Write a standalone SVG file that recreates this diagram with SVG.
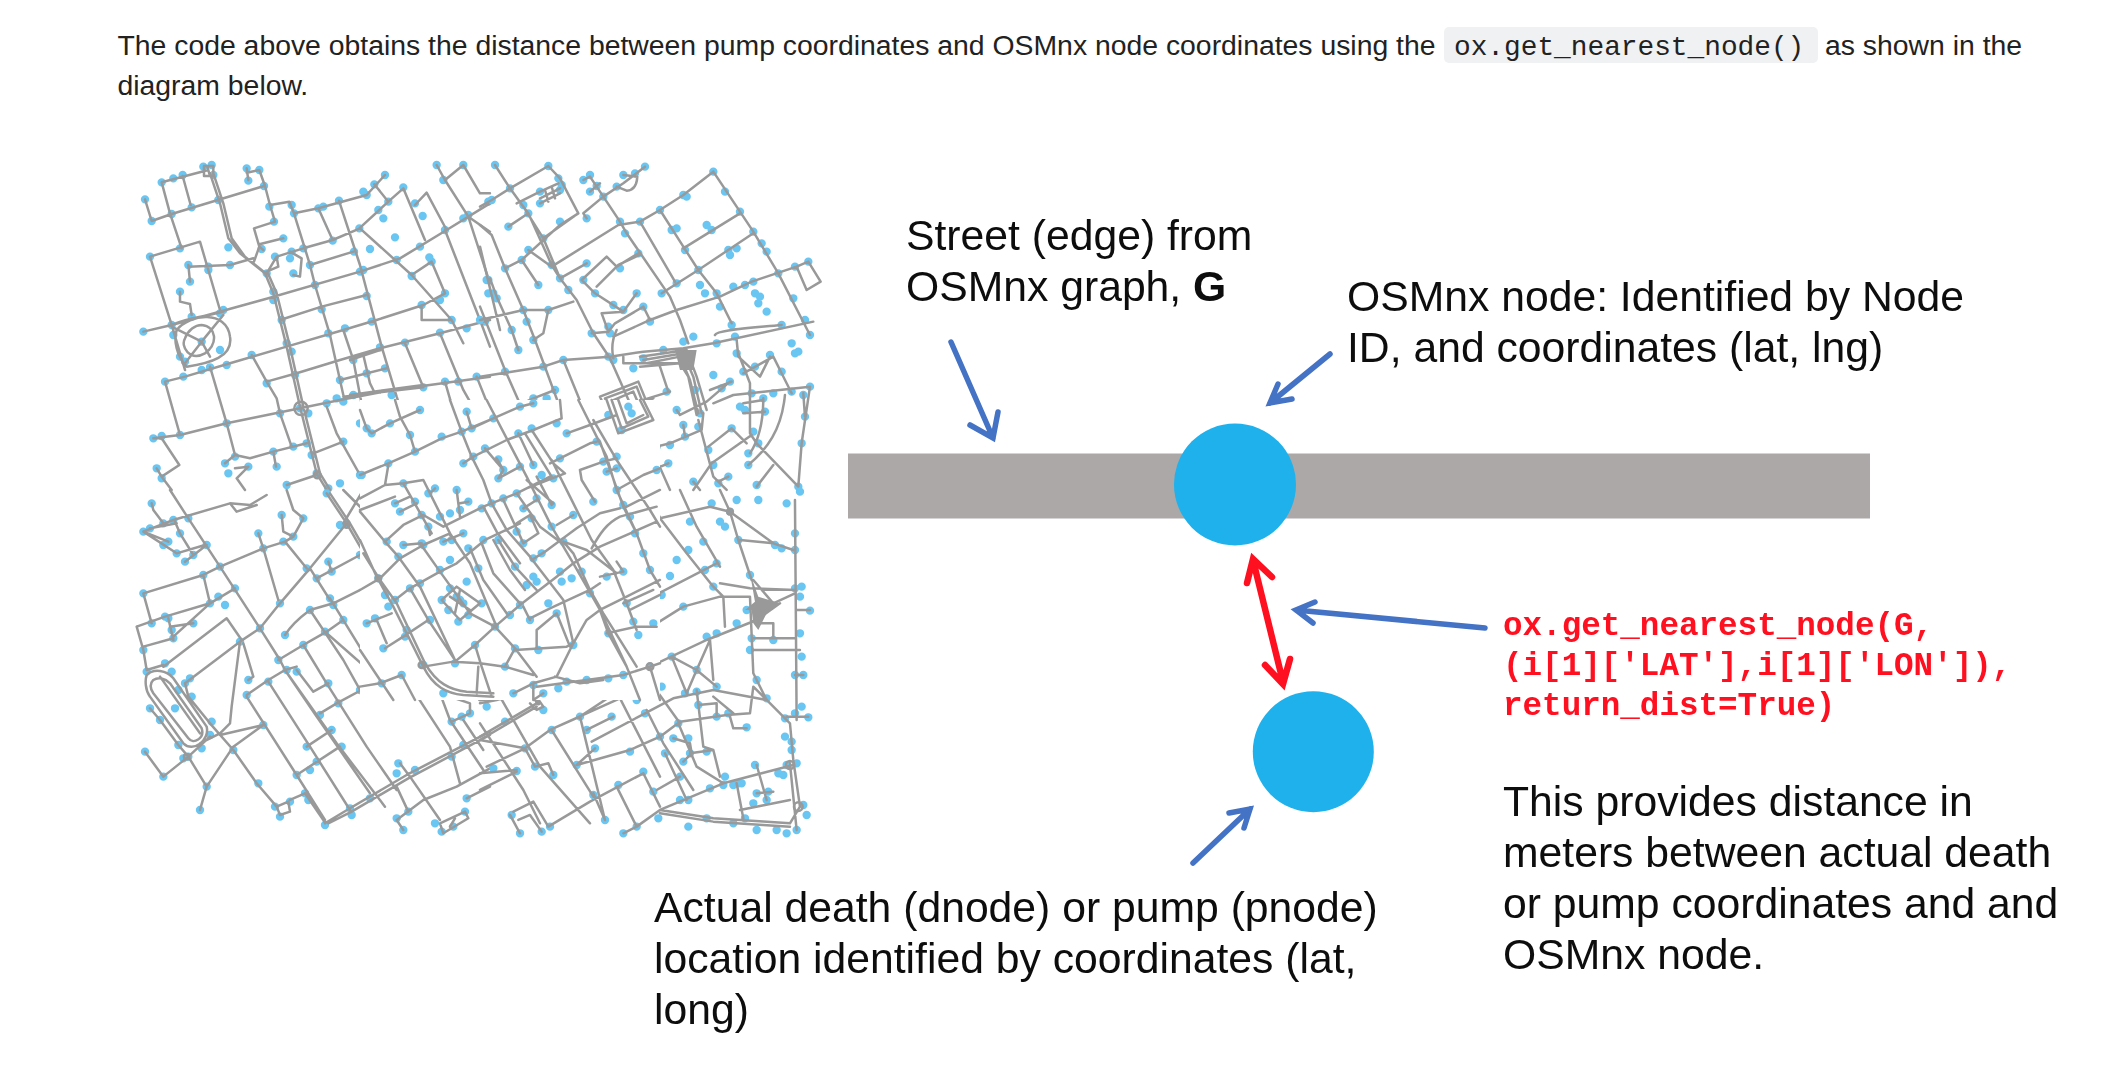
<svg xmlns="http://www.w3.org/2000/svg" width="2118" height="1080" viewBox="0 0 2118 1080">
<style>
.roads{fill:none;stroke:#999;stroke-width:7.5;stroke-linejoin:round;stroke-linecap:round}
.dots{fill:none;stroke:#69c5f1;stroke-width:25;stroke-linecap:round}
.body{font-family:"Liberation Sans",Arial,sans-serif;font-size:28.37px;fill:#222}
.label{font-family:"Liberation Sans",Arial,sans-serif;font-size:42.7px;fill:#0d0d0d}
.code{font-family:"Liberation Mono","Courier New",monospace;font-size:32.6px;font-weight:bold;fill:#ff1020}
.inline{font-family:"Liberation Mono","Courier New",monospace;font-size:27.8px;fill:#222}
.blue{fill:none;stroke:#4472c4;stroke-width:5.5;stroke-linejoin:miter;stroke-linecap:round}
.red{fill:none;stroke:#ff1020;stroke-width:6.5;stroke-linejoin:miter;stroke-linecap:round}
.node{fill:#1eb1ec}
</style>
<defs>
<filter id="soft" x="-2%" y="-2%" width="104%" height="104%"><feGaussianBlur stdDeviation="0.55"/></filter>
<clipPath id="outer"><path clip-rule="evenodd" d="M100 130H860V860H100ZM360 400V700H660V400Z"/></clipPath>
</defs>
<rect width="2118" height="1080" fill="#fff"/>
<g id="intro">
<text class="body" x="117.5" y="55">The code above obtains the distance between pump coordinates and OSMnx node coordinates using the</text>
<rect x="1444" y="27" width="374" height="36" rx="5" fill="#f0f1f2"/>
<text class="inline" x="1454" y="55">ox.get_nearest_node()</text>
<text class="body" x="1825" y="55">as shown in the</text>
<text class="body" x="117.5" y="95">diagram below.</text>
</g>
<g id="street-map" filter="url(#soft)">
<g clip-path="url(#outer)">
<g transform="translate(130 150) scale(.3333)">
<path class="dots" d="M45 148h.1M65 213h.1M125 192h.1M95 97h.1M130 85h.1M158 75h.1M220 50h.1M245 45h.1M250 75h.1M185 172h.1M265 150h.1M350 55h.1M388 60h.1M355 92h.1M402 108h.1M418 170h.1M485 165h.1M492 190h.1M432 215h.1M565 175h.1M580 170h.1M627 152h.1M710 135h.1M700 125h.1M733 103h.1M765 75h.1M820 112h.1M775 155h.1M745 180h.1M760 205h.1M795 262h.1M855 160h.1M878 198h.1M688 235h.1M608 272h.1M460 265h.1M395 297h.1M295 292h.1M485 305h.1M435 320h.1M520 295h.1M480 325h.1M490 370h.1M540 345h.1M555 405h.1M672 305h.1M690 365h.1M700 360h.1M720 297h.1M870 290h.1M800 330h.1M845 378h.1M898 322h.1M905 335h.1M945 240h.1M920 45h.1M1000 45h.1M940 90h.1M1000 205h.1M1015 195h.1M1075 155h.1M1070 390h.1M1075 430h.1M945 430h.1M930 450h.1M965 510h.1M875 465h.1M1065 515h.1M1010 535h.1M930 548h.1M825 578h.1M750 592h.1M725 515h.1M645 535h.1M595 550h.1M710 438h.1M575 478h.1M455 510h.1M430 425h.1M430 450h.1M410 370h.1M150 295h.1M60 320h.1M175 345h.1M235 350h.1M235 360h.1M300 345h.1M180 395h.1M150 425h.1M270 490h.1M280 480h.1M185 500h.1M125 525h.1M40 545h.1M130 555h.1M150 620h.1M270 600h.1M215 575h.1M165 635h.1M215 660h.1M240 652h.1M290 645h.1M160 680h.1M105 695h.1M365 615h.1M470 580h.1M485 605h.1M495 675h.1M410 700h.1M630 690h.1M670 630h.1M710 670h.1M765 655h.1M620 745h.1M640 755h.1M670 735h.1M510 775h.1M450 790h.1M535 790h.1M590 760h.1M880 712h.1M945 695h.1M985 695h.1M1040 680h.1M785 735h.1M870 780h.1M780 815h.1M790 820h.1M725 850h.1M690 820h.1M840 855h.1M935 860h.1M855 905h.1M990 845h.1M1025 835h.1M1015 785h.1M1025 920h.1M995 940h.1M1075 905h.1M775 935h.1M690 975h.1M640 875h.1M545 915h.1M560 970h.1M430 905h.1M440 950h.1M490 890h.1M530 880h.1M315 920h.1M285 940h.1M355 950h.1M295 970h.1M80 955h.1M95 985h.1M150 855h.1M70 865h.1M95 858h.1M290 820h.1M470 1005h.1M595 1015h.1M630 1000h.1M770 1000h.1M820 1000h.1M905 1010h.1M980 1015h.1"/>
<path class="roads" d="M45 148L65 213L125 192L402 108M95 97L120 190L155 295M95 97L235 60M158 78L182 165M222 48H250V78H222ZM232 50L240 78M240 70L270 160L295 265L330 310L405 370M250 70L280 160L305 265L345 320L405 368M350 55L355 90M350 68L388 60L405 108L420 165L478 155L492 190M420 165L435 215L372 235L388 290L372 335M388 283L460 265M400 300L388 290M492 190L540 345L555 405L600 555L630 690L640 735M492 190L565 175L710 135L765 75M733 103L775 155M775 155L688 235M775 155L820 115L885 270M855 165L890 128L950 240L1080 160M627 152L690 345L755 590L800 740L855 905M565 175L608 270M405 370L430 430L470 590L510 770L560 970L590 1020M414 370L440 430L480 590L520 770L570 970L600 1020M60 320L210 275L270 480M60 320L125 525L165 660M40 545L125 525L415 445L690 365L810 325L950 240M175 350L300 345L370 325M175 345L180 395M150 425L150 455L180 462L185 495M140 540C180 490 290 480 300 560C310 620 240 640 170 650C140 620 130 570 140 540ZM215 525C260 530 265 580 225 610C180 635 150 590 165 565C175 540 195 525 215 525ZM125 530L215 575L280 495M215 575L165 640M215 575L240 620M125 525C180 500 230 500 280 485M105 695L165 680L300 640L470 590L640 540L740 510L880 465L945 430M105 695L150 855M70 865L150 855L290 820L510 775L630 750L790 720L1080 680M240 650L290 820L315 915M365 615L410 695L440 745L450 790L485 890M410 695L500 670L630 630L750 595L930 550L1080 510M540 345L670 305M450 510L575 470L710 435M410 370L440 320L520 295L608 270L690 235M440 320L445 350L410 365M480 305L515 325L510 380L490 375M690 235L845 375L965 510L1000 580M845 375L905 335L945 430M920 45L945 90L1000 45L1050 130H1080M945 90L1015 200L1080 245M1015 200L1080 400M945 240L1050 510L1080 590M875 470V510H965M640 540L670 630L690 735L710 845L780 810L870 780M660 630L750 600M700 615L720 700L730 720M630 690L770 655M640 740L880 712M660 735L880 705M825 580L880 712M930 550L1000 720L1080 860M945 695L990 850L1030 930L1080 1020M1040 680L1080 780M590 770L620 850L690 975M550 910L640 875M690 975L775 935L860 905L1000 845L1080 810M775 935L765 1010M1015 785L1030 830M70 865H95L148 945L95 980L80 955M95 980L125 1020M285 940L315 915L360 925L430 905L530 880M315 955L355 950L320 985L345 1020M430 905L438 950M470 1005L560 975M810 1000L880 990L895 1020"/>
<circle class="roads" cx="513" cy="775" r="20" fill="#999"/>
<circle class="roads" cx="562" cy="975" r="10" fill="#999"/>
</g>
<g transform="translate(480 150) scale(.3333)">
<path class="dots" d="M45 45h.1M205 48h.1M90 115h.1M35 150h.1M130 165h.1M145 190h.1M85 230h.1M235 85h.1M245 105h.1M180 125h.1M180 160h.1M240 120h.1M240 215h.1M310 90h.1M330 75h.1M350 108h.1M330 125h.1M370 140h.1M320 205h.1M410 110h.1M430 75h.1M465 70h.1M495 50h.1M420 215h.1M435 250h.1M480 215h.1M540 180h.1M610 135h.1M620 140h.1M700 65h.1M735 125h.1M780 185h.1M820 245h.1M845 280h.1M860 305h.1M575 240h.1M590 235h.1M680 225h.1M695 240h.1M615 300h.1M745 300h.1M750 315h.1M770 295h.1M655 360h.1M190 265h.1M215 345h.1M145 300h.1M125 330h.1M75 355h.1M175 405h.1M240 385h.1M265 420h.1M320 340h.1M310 390h.1M345 430h.1M475 310h.1M420 355h.1M470 430h.1M430 480h.1M400 465h.1M490 470h.1M510 515h.1M385 530h.1M390 550h.1M335 550h.1M545 430h.1M590 400h.1M660 405h.1M675 430h.1M710 430h.1M720 470h.1M760 410h.1M795 405h.1M820 395h.1M825 430h.1M840 440h.1M835 460h.1M755 525h.1M895 370h.1M945 350h.1M985 335h.1M860 485h.1M940 445h.1M975 510h.1M905 525h.1M990 555h.1M935 580h.1M945 610h.1M955 605h.1M870 615h.1M765 560h.1M710 580h.1M610 575h.1M640 560h.1M25 390h.1M40 430h.1M50 445h.1M95 540h.1M115 600h.1M130 480h.1M140 515h.1M205 480h.1M160 570h.1M0 510h.1M190 650h.1M250 630h.1M75 665h.1M385 620h.1M400 630h.1M460 655h.1M490 625h.1M550 600h.1M560 725h.1M590 780h.1M750 695h.1M725 715h.1M700 675h.1M645 720h.1M655 830h.1M660 790h.1M615 860h.1M610 825h.1M570 885h.1M530 890h.1M160 745h.1M150 760h.1M200 745h.1M225 720h.1M45 800h.1M120 780h.1M155 830h.1M230 825h.1M265 850h.1M390 795h.1M440 765h.1M450 795h.1M350 875h.1M115 850h.1M20 895h.1M55 930h.1M50 985h.1M75 975h.1M125 945h.1M160 945h.1M240 925h.1M180 975h.1M220 965h.1M370 930h.1M405 925h.1M380 965h.1M405 955h.1M490 975h.1M525 960h.1M565 940h.1M685 900h.1M700 945h.1M640 995h.1M715 1000h.1M745 980h.1M780 770h.1M795 780h.1M855 785h.1M850 745h.1M815 730h.1M880 730h.1M935 725h.1M990 710h.1M970 735h.1M975 800h.1M965 880h.1M955 1010h.1M755 835h.1M820 845h.1M805 910h.1M805 945h.1M835 880h.1M830 1005h.1M905 665h.1M825 650h.1M790 665h.1M770 610h.1"/>
<path class="roads" d="M45 45L90 115L130 170L190 265L240 385L290 450L340 550L390 625L450 760L530 930L570 1020M205 48L90 115L35 150L0 170M205 48L240 85L295 190L190 265M85 230L145 190M130 170L145 190L215 345M180 125L235 100M180 145L240 115M180 160L240 130M195 120L205 155M215 110L225 145M110 160L180 125M0 225L35 255L75 355L130 480L165 570L250 800L300 960M75 355L125 330L185 275L240 225L295 190M125 330L175 405M145 300L215 350L415 225L480 215L540 180L610 135L700 65M310 90L330 80L370 140L420 215L440 250L570 440L600 510L625 580M320 205L310 190L370 140L430 100L495 50M410 110L440 122Q470 120 472 80L430 75M330 125L360 100M700 65L780 185L820 245L895 370L990 555M480 215L585 395M540 180L610 290L655 360L710 430L755 520M610 295L780 190M545 430L655 360L820 250M215 345L240 385L320 340M305 390L345 430L430 485L470 430M305 390L380 320L410 350L475 310M350 410L410 350L415 345L478 315M0 510L130 480L205 480L280 455M205 480L190 550L160 570M30 385L50 440L95 540L115 600M0 680L190 650L250 630L390 620L490 605L610 595L700 580L1000 515M250 630L340 850L350 870L420 1000M365 490L430 485M365 490L385 545L335 550M385 545L405 520L490 470L510 510L590 480L720 440L815 395L950 350L985 335L1022 395L980 420L950 350M410 540C395 570 395 600 400 625M400 560L510 510M430 620V640H600M480 620L620 600L650 680L680 780M490 630L610 610L640 680L665 790M500 640L600 620L630 690L655 790M480 650L600 640L625 680L650 795M540 650L565 725M590 780L600 795L680 755L750 695M690 720L755 695M700 760L760 735L990 710M360 740L475 695L520 805L410 855ZM375 745L470 710L505 800L420 840ZM390 755L460 725L490 795L430 825ZM440 765L570 725M260 850L390 795L520 745M0 820L45 800L160 745L225 720M0 900L115 850L230 820L240 800M115 850L160 945M20 895L50 960L75 975M45 985L145 960L240 925L350 875M260 940L240 925L260 965L215 985M300 960L400 925M300 960L310 1020M370 920L380 970L485 975L565 940M530 890L570 880L665 840L670 790M610 825L615 860M655 810L700 980L740 1020M685 890L755 835L800 880M695 940L815 855M770 570L775 620L840 680L870 620M790 670L880 620L905 670L935 730M775 610L810 700L810 850L830 880L955 1010M790 760L850 750M790 790L855 785M915 735C905 840 860 900 805 945M850 745C850 830 830 880 810 910M990 710L965 880L955 1010M970 730L975 800M830 1010L880 945M640 995L660 1020M715 995L745 980M695 940L640 1020M705 555C710 540 800 535 905 525M0 290L60 540M0 470L75 660L150 830L215 980L240 1020M120 800L225 990"/>
<path d="M585 600L650 600L640 660L600 660Z" fill="#999"/>
</g>
<g transform="translate(130 490) scale(.3333)">
<path class="dots" d="M65 40h.1M100 100h.1M40 125h.1M60 115h.1M130 90h.1M175 85h.1M150 130h.1M115 155h.1M100 165h.1M140 190h.1M165 215h.1M190 195h.1M230 165h.1M270 230h.1M220 255h.1M40 310h.1M65 400h.1M105 380h.1M115 385h.1M190 400h.1M130 445h.1M125 420h.1M240 340h.1M265 320h.1M285 345h.1M315 295h.1M40 480h.1M105 520h.1M125 545h.1M50 545h.1M60 655h.1M90 690h.1M135 655h.1M145 600h.1M165 580h.1M180 565h.1M185 620h.1M245 695h.1M240 735h.1M215 775h.1M145 765h.1M175 800h.1M160 805h.1M45 785h.1M100 860h.1M230 890h.1M210 960h.1M310 780h.1M400 705h.1M385 880h.1M435 950h.1M450 980h.1M480 935h.1M525 910h.1M535 930h.1M585 1005h.1M660 955h.1M665 975h.1M720 925h.1M800 850h.1M855 840h.1M805 820h.1M965 800h.1M1000 765h.1M350 615h.1M355 570h.1M330 455h.1M390 415h.1M415 575h.1M445 510h.1M470 540h.1M500 545h.1M595 580h.1M520 465h.1M585 425h.1M640 390h.1M465 435h.1M540 360h.1M600 325h.1M610 345h.1M450 340h.1M530 235h.1M560 265h.1M595 215h.1M605 245h.1M690 195h.1M400 175h.1M385 130h.1M460 155h.1M490 140h.1M455 75h.1M520 85h.1M590 10h.1M650 100h.1M630 105h.1M745 265h.1M775 320h.1M770 350h.1M790 340h.1M710 405h.1M735 385h.1M760 475h.1M780 465h.1M830 430h.1M885 400h.1M880 530h.1M820 555h.1M755 580h.1M690 600h.1M625 640h.1M570 675h.1M605 720h.1M530 770h.1M635 770h.1M560 815h.1M540 840h.1M500 855h.1M945 600h.1M965 695h.1M995 680h.1M1020 670h.1M1010 925h.1M800 985h.1M820 1020h.1M835 965h.1M935 1025h.1M915 1000h.1M970 1010h.1M1005 965h.1"/>
<path class="roads" d="M120 0L175 85L270 230L390 415L450 510L465 540L620 760L765 950M65 40L70 60L100 100M40 125L130 90L300 40L360 45L410 15M300 40L320 65L380 45M40 125L140 190L225 165M60 115L140 100M135 95L150 130L190 195M165 215L230 165M40 125L115 155M270 230L220 255L40 310L65 400M220 255L240 340M20 410L105 380L240 340L315 295M240 340L130 440M115 385L130 450M120 410L190 400M20 410L40 480L50 540M40 470L130 445M100 530L290 385L335 450M50 540L100 525M165 580L330 455L390 415L450 340L540 235L650 100L590 10M330 455L305 650L300 700L270 730L210 760M340 460L370 560L355 570M50 555C70 535 110 540 130 565L230 710C240 750 190 790 160 760L60 620C45 600 45 570 50 555ZM70 570C85 560 105 565 120 580L215 715C225 745 190 765 175 745L70 610C60 595 60 580 70 570ZM90 690L145 765L175 800M60 655L90 690M90 560L210 730M165 580L175 620L240 700L310 780L380 880L440 950M175 800L230 890L210 960M230 890L310 770L400 705L270 735M45 785L100 860L175 800L240 740M440 950L475 935L480 965L450 975ZM480 930L525 910M525 910L580 990L585 1000M585 1000L660 955L830 855L1080 725M595 1000L665 965L835 865L1080 735M350 615L415 570L465 540L500 530M350 620L500 855L585 990M415 575L540 770L660 960M465 540L560 680L720 910M500 540L550 605L595 580M520 465L590 580L710 770L800 900M445 510L520 465L590 425L640 390M585 425L750 570M465 435C490 395 520 375 540 360L610 340L730 280M540 360L640 510L690 600M600 325L750 570M540 235L600 330M400 175L445 330M400 175L465 155L530 235M270 230L400 175M385 130L400 175M455 75L460 125L490 140L465 155M470 0L490 60L520 85L490 140M560 265L690 195L810 140M595 215L605 245M590 10L650 100L745 265L830 430L880 530C900 570 940 610 1000 620L1080 630M600 10L660 100L755 265L840 430L885 520M570 670L620 640L750 570L880 535M530 770L605 720M500 855L630 770M710 405L745 385L780 470M760 475L890 400M820 555L960 770L990 880M930 610L1020 640L1020 670L965 695M930 610L960 690L1060 840M1000 690L1060 780M1010 925L1080 890M800 990L880 930L980 890L1080 835M800 990L820 1020M810 820L840 860L930 990M800 890L835 965M930 1000L1005 965L1015 985L940 1030ZM975 985L960 1010M640 0L700 60M700 0L640 100"/>
<circle class="roads" cx="745" cy="265" r="8" fill="#999"/>
<circle class="roads" cx="650" cy="105" r="8" fill="#999"/>
<circle class="roads" cx="170" cy="800" r="8" fill="#999"/>
</g>
<g transform="translate(480 490) scale(.3333)">
<path class="dots" d="M835 30h.1M920 40h.1M960 5h.1M770 30h.1M695 40h.1M750 65h.1M720 95h.1M735 110h.1M945 130h.1M775 150h.1M885 165h.1M905 175h.1M945 180h.1M710 220h.1M675 240h.1M700 290h.1M570 258h.1M545 315h.1M590 210h.1M625 180h.1M670 155h.1M630 95h.1M610 350h.1M680 440h.1M710 430h.1M770 400h.1M520 405h.1M545 590h.1M575 500h.1M650 540h.1M615 610h.1M710 590h.1M650 605h.1M655 645h.1M710 680h.1M745 670h.1M800 712h.1M830 570h.1M860 625h.1M810 480h.1M815 445h.1M810 255h.1M800 360h.1M880 450h.1M945 295h.1M965 290h.1M960 320h.1M990 362h.1M945 555h.1M970 555h.1M960 430h.1M965 500h.1M965 650h.1M915 685h.1M945 670h.1M985 682h.1M915 740h.1M935 755h.1M935 780h.1M920 825h.1M950 820h.1M910 855h.1M895 850h.1M775 880h.1M785 880h.1M735 860h.1M730 885h.1M760 885h.1M825 825h.1M830 910h.1M865 905h.1M860 930h.1M820 940h.1M970 945h.1M980 975h.1M950 1020h.1M920 1030h.1M890 1020h.1M830 1020h.1M795 985h.1M760 1000h.1M680 985h.1M625 1010h.1M535 985h.1M520 905h.1M625 930h.1M600 930h.1M690 895h.1M600 860h.1M555 790h.1M580 745h.1M625 745h.1M630 790h.1M610 815h.1M680 785h.1M595 700h.1M540 740h.1M450 785h.1M490 845h.1M415 885h.1M470 1010h.1M430 1030h.1M375 990h.1M340 915h.1M290 825h.1M345 775h.1M320 720h.1M395 680h.1M300 680h.1M215 720h.1M135 775h.1M75 695h.1M40 835h.1M110 843h.1M220 855h.1M165 830h.1M95 975h.1M120 1030h.1M185 1025h.1M210 1010h.1M495 670h.1M470 630h.1M20 650h.1M190 660h.1M170 600h.1"/>
<path class="roads" d="M510 0L540 85L620 190L700 290L730 320L735 410M600 0L650 110L720 230M720 0L750 65L775 150L815 270M540 85L690 50L750 65M440 360L710 220M450 355L530 400L610 350L720 320L810 320M510 530L680 450L830 390L900 340M0 628L50 620L150 590M0 640L50 630L155 600L170 635M155 600L190 650L170 660L150 640M170 640L0 740M170 650L0 750M0 850L110 840M0 900L110 845M0 750L135 775L210 720L420 625L395 575M20 830L135 775L165 830L205 820L220 855M210 720L300 680L390 620L420 625M320 720L400 680M335 755L495 670L580 625L700 600L860 630M345 775L290 825L450 780L540 740L600 695L740 675L810 670L820 590L860 630M100 965L160 935L205 1010L330 935L490 850M90 975L120 1030M115 990L150 975L185 1025M300 680L375 990M340 910L375 990M215 720L340 920M620 610L575 500M620 610L650 540L690 450L700 570M650 540L710 590M575 500L650 540M810 320L820 550L860 630L930 700L940 810L960 950M945 30L950 690M750 65L880 160L940 180M780 150L880 160M820 270L880 340L945 310M720 280L810 295L945 300M830 400H880V445M820 445H945M820 480H960M950 360H990M945 555H970M920 680H985M750 680L760 715H800M650 600L670 770L700 780L720 860M655 645L710 640V680M595 700L650 830L730 880L940 825M555 790L620 930M530 900L600 860M580 745L630 760L635 790L610 815M630 790L700 780M430 1030L470 1010L540 960L730 880M540 960L700 985L930 1000L960 950M540 970L700 995L930 1010M410 890L470 1010M490 850L540 950M770 880L790 985M780 960L930 930M830 825L860 930M830 910L880 905M60 620L180 830L330 1000M930 820L950 1020M500 660L550 760L640 900M420 625L540 860M450 490L600 700M760 670L700 620M0 700L130 900L180 1000"/>
<path d="M810 250L835 320L900 340L860 370L835 420L820 400L815 360L795 360L825 335Z" fill="#999"/>
<path class="roads" style="stroke-width:13" d="M0 628L50 622M150 600L175 640"/>
<circle class="roads" cx="750" cy="65" r="8" fill="#999"/>
<circle class="roads" cx="930" cy="825" r="12" fill="#999"/>
<circle class="roads" cx="955" cy="950" r="13" fill="#999"/>
</g>
</g>
<g transform="translate(360 400) scale(.3333)">
<path class="dots" d="M180 30h.1M90 70h.1M35 100h.1M20 85h.1M150 105h.1M245 110h.1M165 155h.1M85 190h.1M5 225h.1M320 35h.1M335 85h.1M400 55h.1M305 95h.1M310 190h.1M340 170h.1M375 145h.1M415 178h.1M430 210h.1M415 235h.1M480 200h.1M520 195h.1M475 100h.1M515 85h.1M590 70h.1M620 100h.1M710 125h.1M770 170h.1M730 185h.1M770 205h.1M740 215h.1M600 175h.1M580 235h.1M545 225h.1M575 315h.1M530 295h.1M470 280h.1M430 295h.1M395 310h.1M365 325h.1M290 270h.1M300 330h.1M325 305h.1M225 265h.1M205 280h.1M130 250h.1M105 310h.1M165 305h.1M120 335h.1M185 345h.1M240 350h.1M270 340h.1M205 380h.1M250 425h.1M275 420h.1M310 400h.1M130 435h.1M185 430h.1M80 425h.1M115 470h.1M190 435h.1M270 480h.1M240 510h.1M180 550h.1M150 565h.1M105 600h.1M55 535h.1M75 585h.1M85 620h.1M20 670h.1M45 655h.1M70 745h.1M135 710h.1M210 660h.1M140 690h.1M190 795h.1M125 825h.1M65 850h.1M285 790h.1M345 735h.1M405 680h.1M450 645h.1M480 615h.1M510 660h.1M435 800h.1M465 745h.1M535 750h.1M640 735h.1M590 640h.1M565 610h.1M500 555h.1M530 545h.1M465 500h.1M355 505h.1M320 545h.1M245 600h.1M270 565h.1M300 600h.1M290 590h.1M310 610h.1M265 630h.1M295 665h.1M365 610h.1M325 645h.1M415 420h.1M370 420h.1M325 445h.1M490 430h.1M470 395h.1M515 355h.1M490 325h.1M640 345h.1M575 380h.1M610 425h.1M520 475h.1M545 460h.1M600 515h.1M605 545h.1M635 535h.1M665 515h.1M520 530h.1M690 580h.1M790 515h.1M740 530h.1M700 305h.1M790 315h.1M810 350h.1M825 400h.1M850 460h.1M870 510h.1M890 210h.1M770 270h.1M800 610h.1M820 665h.1M835 705h.1M745 700h.1M880 670h.1M870 800h.1M790 825h.1M745 835h.1M680 840h.1M620 845h.1M595 865h.1M520 855h.1M550 880h.1M460 880h.1M250 880h.1M815 40h.1M805 20h.1M745 45h.1M785 90h.1M520 10h.1M480 20h.1"/>
<path class="roads" d="M0 225L85 190L165 155L245 115L305 95L400 55L480 20L520 10M20 85L35 100L90 70L180 30M0 30L20 85M105 0L120 50L150 105L165 155M270 0L305 95L335 170L370 240L395 310L440 390L510 470L610 600L640 730M320 35L335 85L400 55M380 0L440 115L500 230L575 380L640 490L720 630L800 800M310 190L340 170L440 120L520 90L605 55L600 0M620 100L690 75L770 45M475 100L520 195M495 100L575 230M515 90L580 190L615 220L500 265M375 145L430 210L415 235L480 200M410 175L430 210M570 190L600 175L690 130L710 125M0 295L75 255L85 195M75 255L130 250L190 240L245 350L270 400L330 490L410 680M130 250L215 400M0 330L105 290M105 310L150 290M120 335L170 310M225 265L210 280M290 270L300 350M300 310L325 305M75 425L130 375L190 345L250 380L370 320L470 280L570 230M0 335L75 425L115 470L180 560L285 780M0 420L50 530L100 620L190 800C220 860 260 880 310 885L400 890M10 460L60 540L110 610L195 790C230 850 270 870 320 875L400 880M0 570L60 535L120 475L190 435L270 400M130 435L185 430M105 600L150 565L240 515L290 490L375 420L480 370M205 380L210 405M250 425L310 400M270 405L285 420M370 320L410 395L480 490M430 300L490 430M470 280L540 380L600 425M490 325L530 300M470 370L510 345L535 400L490 430L470 385M515 480L555 455L650 385L720 340L780 325M590 375L640 345M695 445C720 400 740 370 780 350L890 320M610 425L680 450L770 520M330 445L370 540L440 640M365 430L400 520L480 610M400 420L450 510L495 570M415 420L465 500L530 570M180 430L240 515L330 640L405 680M150 565L205 660L285 780M245 600L290 560L360 610L300 660ZM270 590L330 630M300 570L285 640M205 660L130 710L75 745M20 670L95 640M50 660L80 730M285 785L345 735L405 680L480 615L590 530L640 490L720 440L890 365M405 680L465 745L530 830M345 735L365 800L395 890M465 745L435 800M190 800L280 785L360 790L435 800L520 825M465 750L620 740L640 730L590 830M530 745V690L590 640L630 740M640 730L680 660L720 630L800 590L900 540M510 660L490 620M510 655L570 625L690 570L720 550M355 800L350 880M590 830L520 850L460 880M530 860L790 825L870 800L900 790M585 830L660 850L730 840M0 860L60 850L125 825L165 900M0 750L60 840L100 900M770 485L790 515L720 530M660 210L730 185L770 175M660 210L665 240L705 305M740 215L770 205M655 0L740 170L770 270L830 400L870 510L900 560M770 270L850 225L900 205M800 320L900 270M720 125L790 320L830 400M700 60L770 180L870 330L900 380M740 0L775 100L880 60L850 0M755 0L785 85L865 50L840 0M775 0L800 70L850 45M610 425L640 460L690 570L730 640L830 800M575 180L630 290L695 420L760 510L800 610L830 690M500 240L580 310M530 230L575 315M740 700L830 680L890 680M790 610L880 570M810 630L900 585M720 630L745 700L800 800L840 900M870 800L900 900M520 850L520 900L550 880"/>
<circle class="roads" cx="870" cy="800" r="10" fill="#999"/>
<circle class="roads" cx="185" cy="795" r="9" fill="#999"/>
<circle class="roads" cx="55" cy="535" r="8" fill="#999"/>
</g>
</g>
<g id="street"><rect x="848" y="453.5" width="1022" height="65" fill="#aca8a7"/></g>
<g id="osmnx-node"><circle class="node" cx="1235" cy="484.5" r="61"/></g>
<g id="actual-location"><circle class="node" cx="1313.3" cy="751.7" r="60.5"/></g>
<g id="connectors">
<path class="blue" d="M951 342L993 438M970 425L993 438L998 412"/>
<path class="blue" d="M1330 354L1270 403M1278 384L1270 403L1292 399"/>
<path class="blue" d="M1485 628L1296 610M1315 602L1296 610L1313 623"/>
<path class="blue" d="M1193 863L1250 809M1229 813L1250 809L1244 828"/>
<path class="red" d="M1253 560L1283 682M1247 583L1253 559L1272 577M1265 665L1283 684L1290 659"/>
</g>
<g id="labels">
<text class="label" x="906" y="250">Street (edge) from</text>
<text class="label" x="906" y="301">OSMnx graph, <tspan font-weight="bold">G</tspan></text>
<text class="label" x="1347" y="311">OSMnx node: Identified by Node</text>
<text class="label" x="1347" y="362">ID, and coordinates (lat, lng)</text>
<text class="code" x="1503" y="635">ox.get_nearest_node(G,</text>
<text class="code" x="1503" y="675">(i[1]['LAT'],i[1]['LON']),</text>
<text class="code" x="1503" y="715">return_dist=True)</text>
<text class="label" x="1503" y="816">This provides distance in</text>
<text class="label" x="1503" y="867">meters between actual death</text>
<text class="label" x="1503" y="918">or pump coordinates and and</text>
<text class="label" x="1503" y="969">OSMnx node.</text>
<text class="label" x="654" y="922">Actual death (dnode) or pump (pnode)</text>
<text class="label" x="654" y="973">location identified by coordinates (lat,</text>
<text class="label" x="654" y="1024">long)</text>
</g>
</svg>
